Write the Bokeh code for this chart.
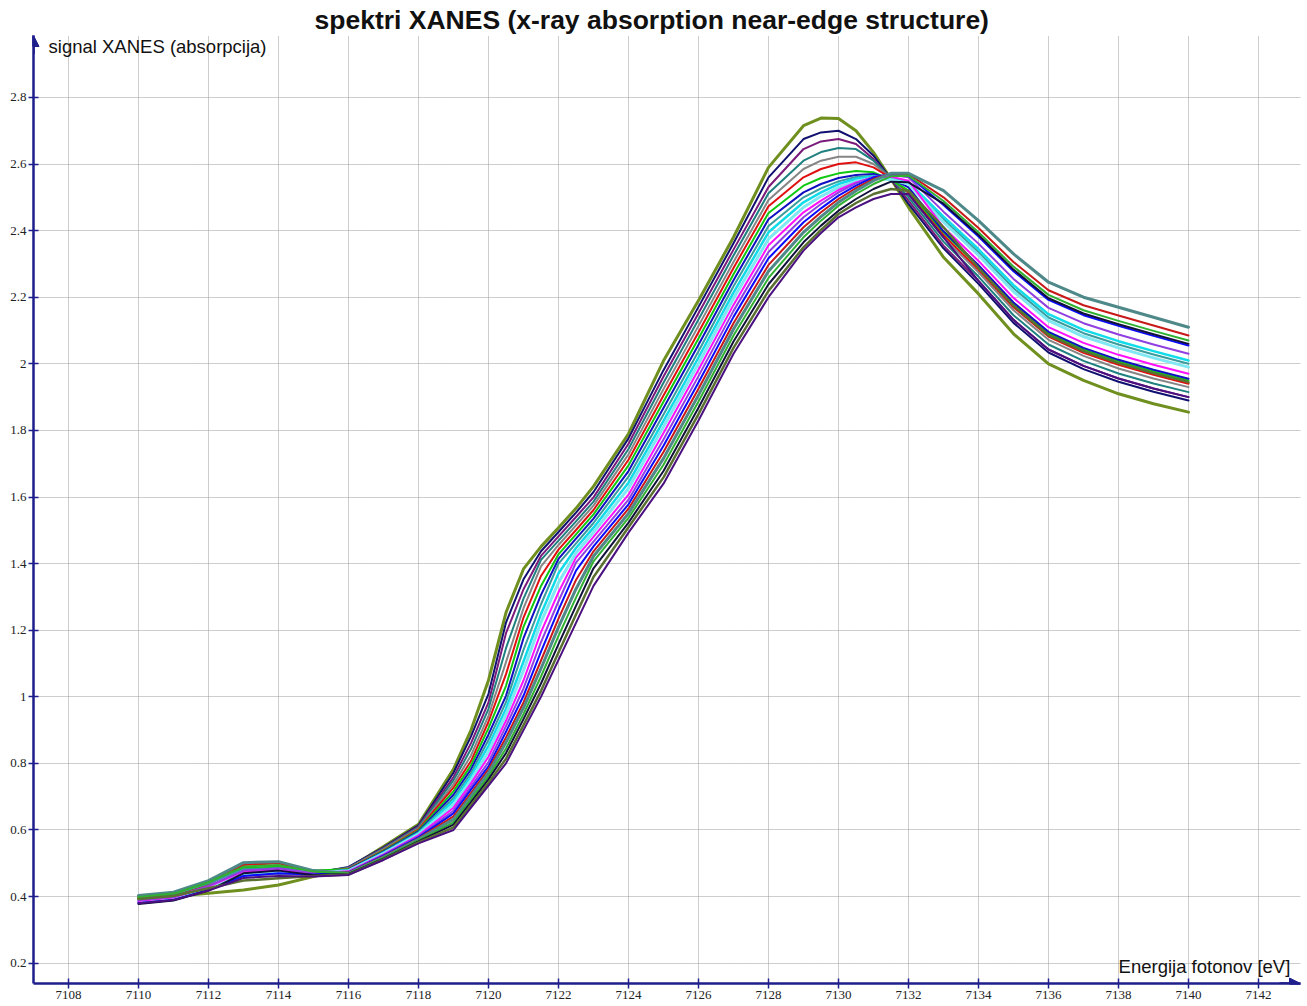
from bokeh.plotting import figure
from bokeh.models import FixedTicker, Label, Arrow, NormalHead, Range1d
from bokeh.embed import file_html
from bokeh.resources import INLINE

# ---------------- data ----------------
X_EV = [7110, 7111, 7112, 7113, 7114, 7115, 7116, 7117, 7118,
        7119, 7119.5, 7120, 7120.5, 7121, 7121.5, 7122, 7122.5, 7123,
        7124, 7125, 7126, 7127, 7128,
        7129, 7129.5, 7130, 7130.5, 7131, 7131.5, 7132,
        7133, 7134, 7135, 7136, 7137, 7138, 7139, 7140]

S00 = [0.395, 0.400, 0.410, 0.420, 0.435, 0.460, 0.485, 0.550, 0.617,
       0.783, 0.900, 1.050, 1.253, 1.384, 1.451, 1.508, 1.566, 1.632,
       1.790, 2.009, 2.190, 2.380, 2.590,
       2.715, 2.738, 2.737, 2.700, 2.635, 2.555, 2.470,
       2.320, 2.210, 2.090, 2.000, 1.950, 1.910, 1.880, 1.855]
S01 = [0.385, 0.395, 0.425, 0.470, 0.480, 0.470, 0.489, 0.548, 0.614,
       0.772, 0.881, 1.009, 1.223, 1.353, 1.437, 1.495, 1.553, 1.615,
       1.776, 1.981, 2.171, 2.362, 2.560,
       2.675, 2.695, 2.700, 2.675, 2.625, 2.555, 2.480,
       2.347, 2.240, 2.123, 2.034, 1.984, 1.946, 1.916, 1.890]
S02 = [0.390, 0.400, 0.430, 0.478, 0.485, 0.472, 0.487, 0.546, 0.611,
       0.759, 0.861, 0.983, 1.191, 1.323, 1.423, 1.482, 1.540, 1.599,
       1.760, 1.962, 2.152, 2.343, 2.531,
       2.645, 2.668, 2.675, 2.660, 2.615, 2.555, 2.490,
       2.355, 2.249, 2.132, 2.043, 1.994, 1.956, 1.926, 1.900]
S03 = [0.400, 0.408, 0.440, 0.485, 0.488, 0.474, 0.486, 0.544, 0.608,
       0.749, 0.843, 0.964, 1.146, 1.295, 1.411, 1.469, 1.527, 1.586,
       1.744, 1.943, 2.133, 2.325, 2.512,
       2.610, 2.636, 2.648, 2.645, 2.610, 2.557, 2.500,
       2.367, 2.262, 2.146, 2.058, 2.009, 1.971, 1.941, 1.915]
S04 = [0.402, 0.410, 0.435, 0.462, 0.468, 0.468, 0.485, 0.542, 0.605,
       0.737, 0.824, 0.943, 1.104, 1.266, 1.392, 1.456, 1.515, 1.574,
       1.728, 1.924, 2.114, 2.306, 2.492,
       2.585, 2.610, 2.622, 2.622, 2.600, 2.558, 2.510,
       2.379, 2.275, 2.161, 2.072, 2.024, 1.986, 1.956, 1.930]
S05 = [0.392, 0.402, 0.438, 0.495, 0.500, 0.476, 0.483, 0.539, 0.602,
       0.727, 0.807, 0.925, 1.068, 1.238, 1.363, 1.442, 1.501, 1.561,
       1.712, 1.905, 2.095, 2.288, 2.473,
       2.560, 2.585, 2.600, 2.605, 2.590, 2.558, 2.515,
       2.387, 2.283, 2.170, 2.082, 2.033, 1.997, 1.967, 1.940]
S06 = [0.396, 0.406, 0.440, 0.485, 0.490, 0.478, 0.482, 0.537, 0.599,
       0.716, 0.794, 0.906, 1.033, 1.210, 1.333, 1.428, 1.488, 1.548,
       1.695, 1.886, 2.076, 2.269, 2.453,
       2.535, 2.558, 2.572, 2.579, 2.575, 2.553, 2.520,
       2.395, 2.292, 2.180, 2.091, 2.043, 2.007, 1.977, 1.950]
S07 = [0.383, 0.392, 0.425, 0.468, 0.475, 0.470, 0.481, 0.535, 0.596,
       0.706, 0.782, 0.887, 1.003, 1.176, 1.306, 1.414, 1.475, 1.535,
       1.678, 1.867, 2.057, 2.251, 2.434,
       2.515, 2.540, 2.558, 2.567, 2.570, 2.556, 2.530,
       2.398, 2.296, 2.184, 2.096, 2.048, 2.012, 1.982, 1.955]
S08 = [0.398, 0.408, 0.440, 0.482, 0.485, 0.474, 0.479, 0.533, 0.593,
       0.696, 0.771, 0.870, 0.984, 1.141, 1.278, 1.400, 1.461, 1.522,
       1.661, 1.848, 2.038, 2.233, 2.414,
       2.500, 2.527, 2.548, 2.561, 2.565, 2.557, 2.540,
       2.434, 2.335, 2.227, 2.139, 2.092, 2.058, 2.028, 2.000]
S09 = [0.386, 0.396, 0.428, 0.472, 0.478, 0.472, 0.478, 0.531, 0.590,
       0.687, 0.761, 0.853, 0.964, 1.106, 1.249, 1.371, 1.447, 1.508,
       1.643, 1.829, 2.019, 2.214, 2.395,
       2.485, 2.515, 2.540, 2.556, 2.563, 2.558, 2.545,
       2.442, 2.344, 2.236, 2.149, 2.102, 2.068, 2.038, 2.010]
S10 = [0.388, 0.397, 0.428, 0.468, 0.475, 0.472, 0.477, 0.529, 0.587,
       0.676, 0.750, 0.836, 0.947, 1.079, 1.224, 1.343, 1.432, 1.494,
       1.626, 1.811, 2.001, 2.196, 2.375,
       2.470, 2.503, 2.530, 2.548, 2.558, 2.553, 2.540,
       2.426, 2.326, 2.217, 2.130, 2.082, 2.048, 2.018, 1.990]
S11 = [0.387, 0.397, 0.430, 0.475, 0.480, 0.470, 0.476, 0.527, 0.584,
       0.667, 0.740, 0.820, 0.928, 1.049, 1.194, 1.314, 1.418, 1.480,
       1.607, 1.792, 1.982, 2.177, 2.356,
       2.455, 2.490, 2.522, 2.545, 2.560, 2.562, 2.550,
       2.410, 2.309, 2.198, 2.110, 2.063, 2.027, 1.997, 1.970]
S12 = [0.389, 0.399, 0.432, 0.478, 0.485, 0.471, 0.474, 0.525, 0.581,
       0.658, 0.730, 0.804, 0.912, 1.025, 1.164, 1.287, 1.403, 1.466,
       1.592, 1.773, 1.963, 2.159, 2.336,
       2.440, 2.480, 2.515, 2.542, 2.562, 2.568, 2.560,
       2.457, 2.361, 2.255, 2.168, 2.122, 2.088, 2.058, 2.030]
S13 = [0.380, 0.390, 0.420, 0.462, 0.470, 0.466, 0.473, 0.523, 0.578,
       0.650, 0.721, 0.791, 0.895, 1.003, 1.136, 1.261, 1.379, 1.452,
       1.578, 1.754, 1.944, 2.141, 2.317,
       2.425, 2.467, 2.505, 2.535, 2.560, 2.570, 2.565,
       2.477, 2.382, 2.278, 2.192, 2.146, 2.114, 2.084, 2.055]
S14 = [0.400, 0.410, 0.445, 0.500, 0.503, 0.476, 0.472, 0.521, 0.575,
       0.641, 0.711, 0.782, 0.878, 0.983, 1.109, 1.235, 1.351, 1.437,
       1.565, 1.735, 1.925, 2.122, 2.297,
       2.410, 2.455, 2.495, 2.528, 2.555, 2.572, 2.570,
       2.500, 2.408, 2.306, 2.221, 2.176, 2.145, 2.115, 2.085]
S15 = [0.403, 0.413, 0.448, 0.502, 0.505, 0.478, 0.470, 0.518, 0.572,
       0.632, 0.702, 0.772, 0.863, 0.967, 1.085, 1.209, 1.324, 1.422,
       1.551, 1.716, 1.906, 2.104, 2.278,
       2.395, 2.442, 2.485, 2.520, 2.550, 2.572, 2.572,
       2.520, 2.430, 2.330, 2.245, 2.200, 2.170, 2.140, 2.110]
S16 = [0.399, 0.409, 0.443, 0.490, 0.495, 0.475, 0.469, 0.516, 0.569,
       0.623, 0.692, 0.761, 0.845, 0.948, 1.061, 1.183, 1.298, 1.407,
       1.537, 1.697, 1.887, 2.085, 2.258,
       2.380, 2.430, 2.475, 2.510, 2.540, 2.563, 2.565,
       2.489, 2.395, 2.292, 2.207, 2.161, 2.129, 2.099, 2.070]
S17 = [0.378, 0.388, 0.418, 0.470, 0.478, 0.465, 0.468, 0.514, 0.566,
       0.616, 0.684, 0.752, 0.831, 0.933, 1.040, 1.158, 1.273, 1.386,
       1.523, 1.678, 1.868, 2.067, 2.239,
       2.365, 2.415, 2.460, 2.495, 2.525, 2.547, 2.545,
       2.481, 2.387, 2.283, 2.197, 2.151, 2.119, 2.089, 2.060]
S18 = [0.393, 0.402, 0.425, 0.448, 0.455, 0.462, 0.466, 0.512, 0.563,
       0.608, 0.675, 0.742, 0.814, 0.915, 1.018, 1.133, 1.247, 1.360,
       1.509, 1.659, 1.849, 2.048, 2.219,
       2.350, 2.402, 2.450, 2.483, 2.510, 2.525, 2.520,
       2.410, 2.288, 2.175, 2.086, 2.038, 2.002, 1.972, 1.945]
S19 = [0.380, 0.390, 0.418, 0.456, 0.462, 0.460, 0.465, 0.510, 0.560,
       0.600, 0.667, 0.733, 0.800, 0.900, 1.000, 1.111, 1.222, 1.333,
       1.493, 1.640, 1.830, 2.030, 2.200,
       2.340, 2.393, 2.440, 2.470, 2.495, 2.510, 2.510,
       2.380, 2.249, 2.132, 2.043, 1.994, 1.956, 1.926, 1.900]

X_TICKS = [7108, 7110, 7112, 7114, 7116, 7118, 7120, 7122, 7124, 7126, 7128,
           7130, 7132, 7134, 7136, 7138, 7140, 7142]
X_TICK_LABELS = ["7108", "7110", "7112", "7114", "7116", "7118", "7120", "7122", "7124",
                 "7126", "7128", "7130", "7132", "7134", "7136", "7138", "7140", "7142"]
Y_TICKS = [0.2, 0.4, 0.6, 0.8, 1.0, 1.2, 1.4, 1.6, 1.8, 2.0, 2.2, 2.4, 2.6, 2.8]
Y_TICK_LABELS = ["0.2", "0.4", "0.6", "0.8", "1", "1.2", "1.4", "1.6", "1.8", "2",
                 "2.2", "2.4", "2.6", "2.8"]

TITLE = "spektri XANES (x-ray absorption near-edge structure)"
Y_LABEL = "signal XANES (absorpcija)"
X_LABEL = "Energija fotonov [eV]"

SERIES = [S00, S01, S02, S03, S04, S05, S06, S07, S08, S09,
          S10, S11, S12, S13, S14, S15, S16, S17, S18, S19]

# ---------------- styles ----------------
COLORS = ["#6f8f1e", "#101070", "#7a1a7a", "#1f8080", "#858585", "#e01010",
          "#10c810", "#1010c0", "#3a9c9c", "#10dcea", "#80e8f2", "#ff10ff",
          "#9040e0", "#0a0aff", "#c81818", "#4e8888", "#30b030", "#10103a",
          "#5a7030", "#4a1080"]
WIDTHS = [3, 2, 2, 2, 2, 2, 2, 2, 2, 2.5, 3, 2, 2, 2, 2, 3, 2, 2, 2.5, 2]

AXIS_COLOR = "#1e1e8c"
GRID_COLOR = "#9a9a9a"
SANS = "Liberation Sans"
SERIF = "Liberation Serif"

p = figure(width=1307, height=1006, title=TITLE,
           x_range=Range1d(7107, 7143.2), y_range=Range1d(0.139, 2.986),
           output_backend="svg", toolbar_location=None,
           min_border_left=33, min_border_right=7,
           min_border_top=35, min_border_bottom=23)
p.title.align = "left"
p.title.offset = 281
p.title.text_font = SANS
p.title.text_font_style = "bold"
p.title.text_font_size = "26.5px"
p.title.text_color = "#111111"
p.title.standoff = 2
p.outline_line_color = None
p.background_fill_color = "white"
p.border_fill_color = "white"

for ys, c, w in zip(SERIES, COLORS, WIDTHS):
    p.line(X_EV, ys, line_color=c, line_width=w, line_join="round", line_cap="round")

# axes
p.xaxis.ticker = FixedTicker(ticks=X_TICKS)
p.xaxis.major_label_overrides = dict(zip(X_TICKS, X_TICK_LABELS))
p.yaxis.ticker = FixedTicker(ticks=Y_TICKS)
p.yaxis.major_label_overrides = dict(zip(Y_TICKS, Y_TICK_LABELS))
for ax in (p.xaxis, p.yaxis):
    ax.axis_line_color = AXIS_COLOR
    ax.axis_line_width = 2.5
    ax.major_tick_line_color = AXIS_COLOR
    ax.major_tick_line_width = 1.5
    ax.major_tick_in = 5
    ax.major_tick_out = 5
    ax.minor_tick_line_color = None
    ax.major_label_text_font = SERIF
    ax.major_label_text_font_size = "13px"
    ax.major_label_text_color = "#222222"
    ax.major_label_standoff = 2

p.xgrid.ticker = FixedTicker(ticks=X_TICKS)
p.ygrid.ticker = FixedTicker(ticks=Y_TICKS)
for g in (p.xgrid, p.ygrid):
    g.grid_line_color = GRID_COLOR
    g.grid_line_dash = "1 1"
    g.grid_line_width = 1

# arrow heads on the axes
p.add_layout(Arrow(end=NormalHead(size=11, fill_color=AXIS_COLOR, line_color=AXIS_COLOR),
                   x_start=7107, y_start=2.93, x_end=7107, y_end=2.986,
                   line_color=AXIS_COLOR, line_width=2.5))
p.add_layout(Arrow(end=NormalHead(size=11, fill_color=AXIS_COLOR, line_color=AXIS_COLOR),
                   x_start=7142.6, y_start=0.139, x_end=7143.2, y_end=0.139,
                   line_color=AXIS_COLOR, line_width=2.5))

# axis titles
p.add_layout(Label(x=7107.43, y=2.952, text=Y_LABEL, text_align="left",
                   text_baseline="middle", text_font=SANS,
                   text_font_size="18.5px", text_color="#111111"))
p.add_layout(Label(x=7142.91, y=0.19, text=X_LABEL, text_align="right",
                   text_baseline="middle", text_font=SANS,
                   text_font_size="18.5px", text_color="#111111"))

open("out.html", "w").write(file_html(p, INLINE))
